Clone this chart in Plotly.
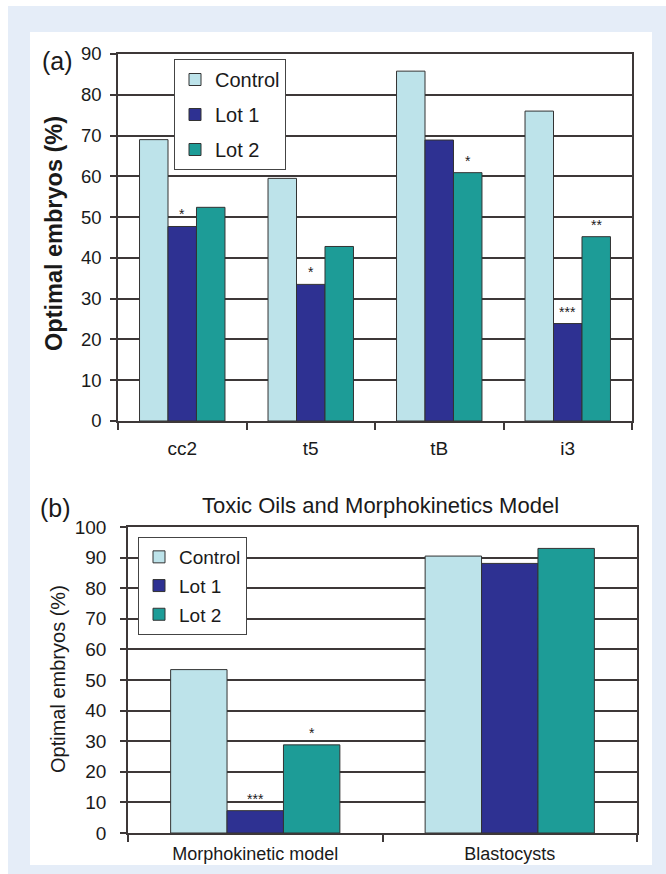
import plotly.graph_objects as go

W, H = 666, 874

# ---- data ------------------------------------------------------------
groups = ["Control", "Lot 1", "Lot 2"]

# (a) optimal embryos by morphokinetic stage
stages = ["cc2", "t5", "tB", "i3"]
control_a = [69.0, 59.5, 85.8, 76.0]
lot1_a = [47.7, 33.5, 68.9, 23.9]
lot2_a = [52.4, 42.8, 60.9, 45.2]
sig_lot1_a = ["*", "*", "", "***"]
sig_lot2_a = ["", "", "*", "**"]

# (b) toxic oils and morphokinetics model
outcomes = ["Morphokinetic model", "Blastocysts"]
control_b = [53.4, 90.5]
lot1_b = [7.3, 88.1]
lot2_b = [28.8, 93.0]
sig_lot1_b = ["***", ""]
sig_lot2_b = ["*", ""]

yticks_a = list(range(0, 91, 10))
yticks_b = list(range(0, 101, 10))

# ---- styling ---------------------------------------------------------
colors = ["#bde3ea", "#2e3192", "#1d9c97"]
FONT = "Liberation Sans, Arial, sans-serif"
INK = "#1a1a1a"
LINE = "#3d3838"
BG_BLUE = "#e5edf8"
BARGAP = 0.335


def px(x):
    return x / W


def py(y):
    return 1 - y / H


fig = go.Figure()

series_a = [control_a, lot1_a, lot2_a]
series_b = [control_b, lot1_b, lot2_b]
for name, color, va, vb in zip(groups, colors, series_a, series_b):
    fig.add_trace(go.Bar(
        x=stages, y=va, name=name, xaxis="x", yaxis="y",
        marker=dict(color=color, line=dict(color="#333333", width=1)),
        legend="legend", legendgroup=name + "-a",
    ))
    fig.add_trace(go.Bar(
        x=outcomes, y=vb, name=name, xaxis="x2", yaxis="y2",
        marker=dict(color=color, line=dict(color="#333333", width=1)),
        legend="legend2", legendgroup=name + "-b",
    ))

# significance stars above the Lot 1 / Lot 2 bars
bar_w = (1 - BARGAP) / len(groups)
annotations = []


def add_stars(labels, values, offset, xref, yref):
    for i, (lab, v) in enumerate(zip(labels, values)):
        if lab:
            annotations.append(dict(
                x=i + offset, y=v, xref=xref, yref=yref, text=lab,
                showarrow=False, yanchor="bottom", xanchor="center", yshift=2,
                font=dict(family=FONT, size=14, color=INK),
            ))


add_stars(sig_lot1_a, lot1_a, 0.0, "x", "y")
add_stars(sig_lot2_a, lot2_a, bar_w, "x", "y")
add_stars(sig_lot1_b, lot1_b, 0.0, "x2", "y2")
add_stars(sig_lot2_b, lot2_b, bar_w, "x2", "y2")


def paper_text(x, y, text, size, angle=0):
    return dict(x=px(x), y=py(y), xref="paper", yref="paper", text=text,
                textangle=angle, showarrow=False, xanchor="center", yanchor="middle",
                font=dict(family=FONT, size=size, color=INK))


# panel letters, titles
annotations += [
    paper_text(57, 61, "(a)", 25),
    paper_text(55, 508, "(b)", 25),
    paper_text(380, 505, "Toxic Oils and Morphokinetics Model", 22),
    paper_text(54, 234, "<b>Optimal embryos (%)</b>", 23.5, -90),
    paper_text(58, 679, "Optimal embryos (%)", 20, -90),
]

# page background: light blue frame with white panel
shapes = [
    dict(type="rect", xref="paper", yref="paper", x0=px(8), x1=px(W), y0=py(H), y1=py(6),
         fillcolor=BG_BLUE, line=dict(width=0), layer="below"),
    dict(type="rect", xref="paper", yref="paper", x0=px(30), x1=px(652), y0=py(865), y1=py(32),
         fillcolor="white", line=dict(width=0), layer="below"),
]

xax_common = dict(
    type="category", showline=True, linecolor=LINE, linewidth=1.5, mirror=True,
    ticks="outside", tickson="boundaries", ticklen=7, tickcolor=LINE, tickwidth=1.5,
    showgrid=False, zeroline=False, automargin=False,
)
yax_common = dict(
    showline=True, linecolor=LINE, linewidth=1.5, mirror=True,
    ticks="outside", ticklen=6, tickcolor=LINE, tickwidth=1.5,
    showgrid=True, gridcolor=LINE, gridwidth=1.5, zeroline=False, automargin=False,
)

legend_common = dict(
    bgcolor="white", bordercolor="#444444", borderwidth=1,
    xanchor="left", yanchor="top", traceorder="grouped",
    font=dict(family=FONT, size=20, color=INK),
)

fig.update_layout(
    width=W, height=H,
    margin=dict(l=0, r=0, t=0, b=0),
    paper_bgcolor="white", plot_bgcolor="white",
    barmode="group", bargap=BARGAP, bargroupgap=0,
    font=dict(family=FONT, color=INK),
    xaxis=dict(domain=[px(118), px(632)], anchor="y", ticklabelstandoff=9,
               tickfont=dict(family=FONT, size=19, color=INK), **xax_common),
    yaxis=dict(domain=[py(421), py(54)], anchor="x", range=[0, 90],
               tickvals=yticks_a, ticklabelstandoff=5,
               tickfont=dict(family=FONT, size=18.5, color=INK), **yax_common),
    xaxis2=dict(domain=[px(128), px(637)], anchor="y2", ticklabelstandoff=4,
                tickfont=dict(family=FONT, size=18, color=INK), **xax_common),
    yaxis2=dict(domain=[py(833), py(527)], anchor="x2", range=[0, 100],
                tickvals=yticks_b, ticklabelstandoff=10,
                tickfont=dict(family=FONT, size=19, color=INK), **yax_common),
    legend=dict(x=px(174), y=py(59), tracegroupgap=6, **legend_common),
    legend2=dict(x=px(138), y=py(537), tracegroupgap=1,
                 **{**legend_common, "font": dict(family=FONT, size=19, color=INK)}),
    annotations=annotations,
    shapes=shapes,
    showlegend=True,
)

fig.write_html("out.html")
